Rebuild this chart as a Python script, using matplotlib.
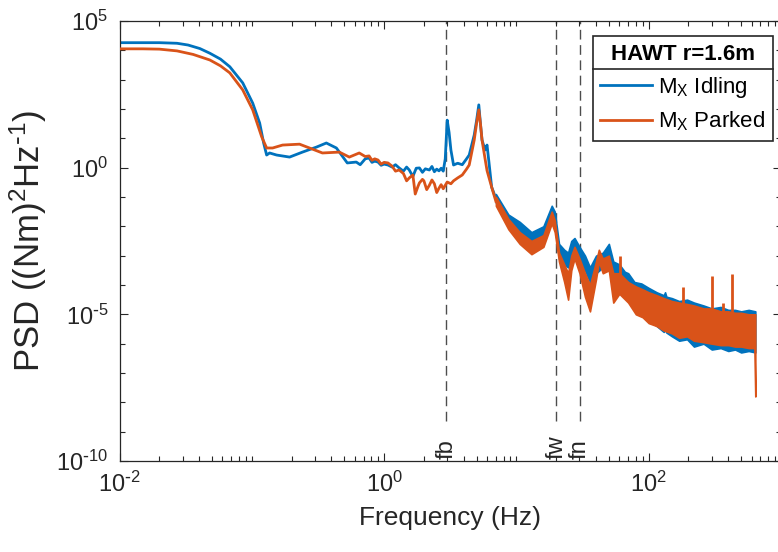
import numpy as np
import matplotlib
matplotlib.use("Agg")
import matplotlib.pyplot as plt
from matplotlib.ticker import FixedLocator, LogLocator, NullFormatter, FuncFormatter
from matplotlib.lines import Line2D
from matplotlib.transforms import IdentityTransform

plt.rcParams['font.family'] = ['Liberation Sans', 'DejaVu Sans']
plt.rcParams['mathtext.default'] = 'regular'
plt.rcParams['axes.unicode_minus'] = False

# --- data (PSD values given as log10 exponents) ---
# low-frequency part, single trace
idle_f = [0.01, 0.015, 0.02, 0.0272, 0.033, 0.0405, 0.0482, 0.058, 0.0682, 0.0854, 0.1016,
          0.1147, 0.1229, 0.1295, 0.1364, 0.154, 0.193, 0.2417, 0.308, 0.366, 0.436, 0.527,
          0.616, 0.66, 0.72, 0.77, 0.81, 0.85, 0.9, 0.95, 1.0, 1.07, 1.15, 1.22, 1.3, 1.4,
          1.48, 1.55, 1.65, 1.75, 1.85, 1.95, 2.05, 2.2, 2.3, 2.4, 2.5, 2.6, 2.7, 2.8, 2.9,
          3.0, 3.1, 3.2, 3.35, 3.6, 3.9, 4.2, 4.4,
          4.8, 5.0, 5.2, 5.35, 5.5, 5.8, 6.0, 6.2, 6.5, 7.0]
idle_e = [4.26, 4.26, 4.26, 4.24, 4.18, 4.06, 3.90, 3.70, 3.44, 2.89, 2.20,
          1.52, 0.84, 0.43, 0.50, 0.43, 0.36, 0.53, 0.70, 0.84, 0.67, 0.16,
          0.19, 0.10, 0.30, 0.33, 0.18, 0.22, 0.19, 0.08, 0.12, 0.09, 0.02, 0.10, -0.01, -0.12,
          0.02, -0.08, -0.30, -0.02, -0.01, -0.16, -0.04, -0.08, 0.04, -0.14, -0.05, -0.11, -0.02, -0.12, 0.30,
          1.62, 1.20, 0.60, 0.09, 0.15, 0.10, 0.30, 0.43,
          1.11, 1.60, 2.14, 1.50, 0.94, 0.60, 0.77, 0.20, -0.66, -1.05]

park_f = [0.01, 0.015, 0.02, 0.0272, 0.036, 0.0482, 0.058, 0.0682, 0.0854, 0.1016, 0.1188,
          0.1295, 0.1437, 0.1709, 0.2296, 0.273, 0.342, 0.459, 0.546, 0.649,
          0.72, 0.77, 0.81, 0.85, 0.9, 0.95, 1.0, 1.07, 1.15, 1.22, 1.3, 1.4, 1.48, 1.55,
          1.65, 1.72, 1.8, 1.85, 1.95, 2.0, 2.1, 2.2, 2.3, 2.4, 2.5, 2.6, 2.7, 2.8,
          3.0, 3.2, 3.35, 3.6, 3.9, 4.2, 4.4,
          4.8, 5.0, 5.2, 5.35, 5.5, 5.8, 6.0, 6.5, 7.0]
park_e = [4.05, 4.05, 4.04, 3.98, 3.86, 3.67, 3.47, 3.23, 2.65, 1.97, 1.05,
          0.67, 0.67, 0.77, 0.80, 0.67, 0.50, 0.53, 0.36, 0.50,
          0.38, 0.40, 0.25, 0.30, 0.26, 0.12, 0.18, 0.16, 0.05, -0.12, -0.08, -0.20, -0.45, -0.35,
          -0.25, -0.90, -0.65, -0.52, -0.40, -0.45, -0.75, -0.60, -0.42, -0.55, -0.85, -0.70, -0.58, -0.72,
          -0.49, -0.55, -0.45, -0.35, -0.25, -0.05, 0.09,
          0.94, 1.50, 1.97, 1.50, 0.94, 0.30, -0.10, -0.66, -1.15]

# high-frequency part, dense noise shown as band (low / high envelope)
idle_band_f = [7.0, 8.7, 10.6, 13, 16, 18.5, 19.5, 21, 23, 24.6, 26, 27.5, 30, 33, 36,
               40, 45, 50, 54, 60, 66, 70, 78, 88, 100, 115, 130, 133, 136, 150, 170, 195,
               220, 260, 300, 350, 400, 450, 500, 570, 640]
idle_band_lo = [-1.20, -1.95, -2.30, -2.55, -2.40, -1.70, -2.00, -3.10, -3.30, -3.40, -2.90,
                -2.80, -3.20, -3.50, -3.90, -3.60, -3.40, -3.10, -3.70, -3.80, -4.10, -4.30,
                -4.80, -4.85, -5.20, -5.40, -5.60, -5.50, -5.62, -5.75, -5.90, -5.85,
                -6.10, -6.00, -6.20, -6.15, -6.25, -6.20, -6.30, -6.25, -6.30]
idle_band_hi = [-0.90, -1.60, -1.85, -2.20, -2.00, -1.30, -1.50, -2.60, -2.80, -2.90, -2.50,
                -2.40, -2.70, -3.00, -3.40, -3.00, -2.90, -2.60, -3.20, -3.30, -3.55, -3.60,
                -3.90, -3.95, -4.10, -4.25, -4.35, -4.25, -4.40, -4.45, -4.55, -4.50,
                -4.60, -4.70, -4.80, -4.75, -4.85, -4.85, -4.90, -4.85, -4.90]

park_band_f = [7.0, 8.7, 10.6, 13, 16, 18.5, 19.5, 21, 23, 24.6, 26, 27.5, 30, 33, 36,
               40, 42, 45, 50, 54, 60, 70, 80, 90, 100, 115, 130, 150, 170, 195, 220, 260,
               300, 350, 400, 450, 500, 570, 630, 640]
park_band_lo = [-1.30, -2.10, -2.60, -2.95, -2.70, -1.90, -2.20, -3.20, -3.90, -4.50, -3.50,
                -3.10, -3.60, -4.40, -4.90, -3.80, -3.20, -3.60, -3.50, -4.60, -4.30, -4.60,
                -5.00, -5.10, -5.30, -5.40, -5.55, -5.65, -5.80, -5.75, -5.90, -5.95,
                -6.00, -6.05, -6.05, -6.10, -6.10, -6.15, -6.15, -7.80]
park_band_hi = [-1.00, -1.75, -2.20, -2.50, -2.30, -1.50, -1.80, -2.90, -3.30, -3.60, -3.00,
                -2.70, -3.10, -3.60, -4.00, -3.20, -2.80, -3.10, -3.00, -3.60, -3.60, -3.90,
                -4.05, -4.15, -4.25, -4.35, -4.45, -4.55, -4.60, -4.65, -4.70, -4.80,
                -4.80, -4.90, -4.90, -4.95, -4.95, -5.00, -5.00, -5.00]

# narrow spikes in the parked spectrum
spike_f = [61, 181, 300, 363, 425]
spike_e = [-3.00, -4.07, -3.70, -4.60, -3.63]
spike_base = [-4.0, -4.8, -5.0, -5.0, -5.0]

# marked frequencies
mark_f = [2.95, 20.0, 30.2]
mark_lbl = ['fb', 'fw', 'fn']

blue = '#0072BD'
orange = '#D95319'
axc = '#262626'

fig = plt.figure(figsize=(7.78, 5.52), dpi=100)
ax = fig.add_axes([0.1536, 0.1649, 0.8502, 0.7971])

p = lambda e: np.power(10.0, np.asarray(e))

ax.fill_between(idle_band_f, p(idle_band_lo), p(idle_band_hi), color=blue, lw=1.2, zorder=2)
ax.plot(idle_f, p(idle_e), color=blue, lw=2, zorder=2)
ax.fill_between(park_band_f, p(park_band_lo), p(park_band_hi), color=orange, lw=1.2, zorder=3)
ax.plot(park_f, p(park_e), color=orange, lw=2, zorder=3)
ax.vlines(spike_f, p(spike_base), p(spike_e), color=orange, lw=2, zorder=3)

ax.set_xscale('log')
ax.set_yscale('log')
ax.set_xlim(0.01, 1000)
ax.set_ylim(1e-10, 1e5)

for f, lbl in zip(mark_f, mark_lbl):
    ax.vlines(f, 10**-8.65, 1e5, colors='#4d4d4d', lw=1, linestyles=(0, (7, 4)), zorder=1)
    ax.text(f, 10**-9.93, lbl, rotation=90, ha='center', va='bottom', fontsize=17, color=axc)


def pow_label(v, pos):
    e = int(round(np.log10(v)))
    s = r'\text{-}%d' % -e if e < 0 else '%d' % e
    return r'$10^{%s}$' % s


ax.xaxis.set_major_locator(FixedLocator([1e-2, 1e0, 1e2]))
ax.xaxis.set_minor_locator(LogLocator(base=10, subs=np.arange(1, 10), numticks=50))
ax.xaxis.set_minor_formatter(NullFormatter())
ax.yaxis.set_major_locator(FixedLocator([1e-10, 1e-5, 1e0, 1e5]))
ax.yaxis.set_minor_locator(LogLocator(base=10, subs=(1.0,), numticks=50))
ax.yaxis.set_minor_formatter(NullFormatter())
ax.xaxis.set_major_formatter(FuncFormatter(pow_label))
ax.yaxis.set_major_formatter(FuncFormatter(pow_label))

ax.tick_params(which='both', direction='in', top=True, right=True, colors=axc,
               labelsize=17, width=0.8)
ax.tick_params(which='major', length=6, pad=8)
ax.tick_params(which='minor', length=3.5)
for s in ax.spines.values():
    s.set_color(axc)
    s.set_linewidth(0.9)

ax.set_xlabel('Frequency (Hz)', fontsize=19, color=axc, labelpad=6)
ax.set_ylabel(r'PSD ((Nm)$^2$Hz$^{\text{-}1}$)', fontsize=25, color=axc, labelpad=5)

handles = [Line2D([], [], color=blue, lw=2), Line2D([], [], color=orange, lw=2)]
leg = ax.legend(handles, ['M$_X$ Idling', 'M$_X$ Parked'], title='HAWT r=1.6m',
                loc='upper right', bbox_to_anchor=(773 / 778, 1 - 36 / 552),
                bbox_transform=fig.transFigure, fontsize=16, fancybox=False,
                framealpha=1, edgecolor=axc, borderpad=0.35, labelspacing=0.45,
                handlelength=2.3, handletextpad=0.3, borderaxespad=0)
leg.get_title().set_fontweight('bold')
leg.get_title().set_fontsize(16)
leg.get_frame().set_linewidth(1.2)
leg.set_zorder(5)

fig.canvas.draw()
tb = leg.get_title().get_window_extent()
fb_ = leg.get_frame().get_window_extent()
ysep = tb.y0 - 4
fig.add_artist(Line2D([fb_.x0, fb_.x1], [ysep, ysep], transform=IdentityTransform(),
                      color=axc, lw=1.2, zorder=6))

fig.savefig('out.png', dpi=100)
